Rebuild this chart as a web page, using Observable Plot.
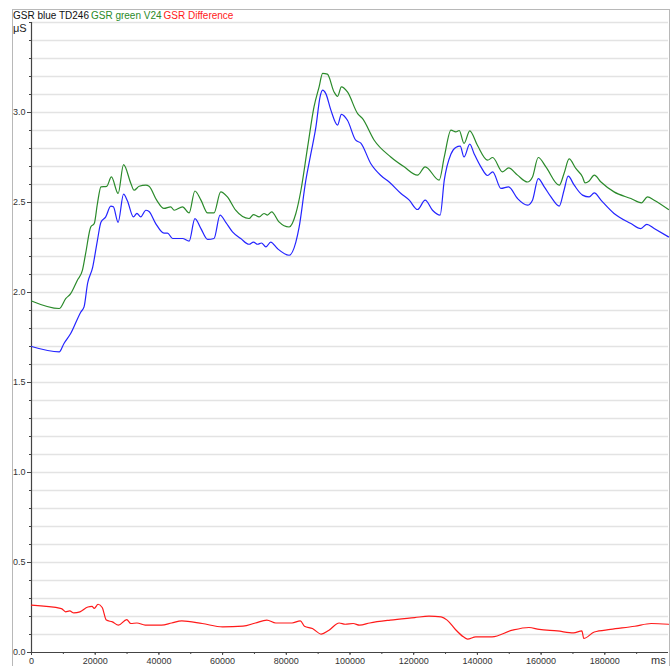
<!DOCTYPE html>
<html>
<head>
<meta charset="utf-8">
<script src="https://cdn.jsdelivr.net/npm/d3@7"></script>
<script src="https://cdn.jsdelivr.net/npm/@observablehq/plot@0.6"></script>
<style>
  html, body { margin: 0; padding: 0; background: #fff; }
  #wrap { position: relative; width: 670px; height: 666px; overflow: hidden; font-family: "Liberation Sans", Arial, sans-serif; }
  #frame { position: absolute; left: 12px; top: 9px; width: 656px; height: 700px; border: 1px solid #b8b8b8; border-bottom: none; }
  #legend { position: absolute; left: 13px; top: 10px; font-size: 10px; line-height: 12px; white-space: nowrap; }
  #legend span { margin-right: 2px; }
  #unit { position: absolute; left: 13px; top: 22px; font-size: 11px; line-height: 12px; color: #222; }
  #xunit { position: absolute; left: 651px; top: 654px; font-size: 11px; line-height: 12px; color: #333; }
  #chart { position: absolute; left: 0; top: 0; }
</style>
</head>
<body>
<div id="wrap">
  <div id="frame"></div>
  <div id="chart"></div>
  <div id="legend"></div>
  <div id="unit">μS</div>
  <div id="xunit"></div>
</div>
<script>
// ---- series names & colours ----
const seriesNames = ["GSR blue TD246", "GSR green V24", "GSR Difference"];
const legendColors = ["#111111", "#2a8a2a", "#ff1a1a"];
const lineColors = ["#2424ff", "#2a8a2a", "#ff1a1a"];

// ---- tick labels ----
const xTicks = [0, 20000, 40000, 60000, 80000, 100000, 120000, 140000, 160000, 180000];
const yTicks = [0.0, 0.5, 1.0, 1.5, 2.0, 2.5, 3.0];
const xUnit = "ms";

// ---- GSR blue TD246 (ms, µS) ----
const blueT = [0, 8700, 10200, 12300, 15500, 16500, 17600, 19200, 20700, 21800, 23300, 24900, 25700, 27200, 28900, 30100, 32000, 33100, 34300, 35900, 36900, 39000, 41600, 42700, 44300, 47400, 49500, 51300, 53200, 55300, 57300, 59200, 61000, 63100, 65700, 68300, 69700, 71000, 72200, 73600, 75100, 77200, 80900, 83000, 84000, 86100, 87700, 89300, 90600, 91400, 92400, 94000, 96100, 97300, 99200, 101800, 103400, 106500, 109700, 112300, 116000, 118600, 121200, 123600, 125900, 128300, 129600, 131700, 133200, 134600, 135800, 137600, 139000, 141100, 143200, 144800, 147400, 149800, 152600, 155700, 157300, 159100, 161000, 163100, 165700, 167200, 168500, 170400, 173000, 175100, 176700, 178800, 182900, 188200, 191300, 193200, 195500, 200000];
const blueV = [1.70, 1.67, 1.717, 1.772, 1.892, 1.92, 2.05, 2.14, 2.29, 2.39, 2.42, 2.48, 2.476, 2.39, 2.546, 2.51, 2.42, 2.44, 2.42, 2.457, 2.45, 2.383, 2.33, 2.33, 2.30, 2.30, 2.285, 2.41, 2.355, 2.295, 2.30, 2.43, 2.39, 2.337, 2.30, 2.268, 2.28, 2.268, 2.275, 2.253, 2.28, 2.244, 2.207, 2.28, 2.36, 2.62, 2.77, 2.92, 3.087, 3.124, 3.105, 3.013, 2.93, 2.99, 2.957, 2.846, 2.83, 2.717, 2.65, 2.614, 2.55, 2.513, 2.461, 2.513, 2.457, 2.43, 2.624, 2.77, 2.806, 2.813, 2.753, 2.824, 2.77, 2.698, 2.65, 2.67, 2.578, 2.587, 2.522, 2.485, 2.513, 2.633, 2.587, 2.531, 2.48, 2.568, 2.646, 2.596, 2.541, 2.531, 2.553, 2.513, 2.439, 2.383, 2.355, 2.379, 2.355, 2.309];

// ---- GSR green V24 (ms, µS) ----
const greenT = [0, 8700, 10800, 12300, 14400, 16000, 17000, 18600, 19700, 20700, 21800, 23600, 25100, 27200, 28900, 31200, 32200, 33800, 35900, 36900, 39300, 41600, 43700, 44800, 47400, 49500, 51300, 53200, 55300, 57300, 59400, 61500, 64100, 68300, 69700, 71500, 73000, 74100, 75400, 77700, 80900, 83000, 84600, 86700, 88700, 90300, 91400, 92900, 95000, 96100, 97300, 99200, 102400, 103900, 107600, 112800, 117000, 121200, 123600, 128000, 129600, 131700, 133200, 134300, 135800, 137600, 140000, 143200, 144800, 147900, 149800, 152600, 155700, 157300, 159100, 161500, 165700, 167200, 168800, 170900, 173000, 173800, 175100, 176700, 178800, 182900, 188200, 191500, 193400, 195500, 200000];
const greenV = [1.953, 1.911, 1.967, 1.994, 2.068, 2.124, 2.217, 2.364, 2.383, 2.494, 2.587, 2.59, 2.642, 2.55, 2.71, 2.606, 2.568, 2.59, 2.596, 2.59, 2.513, 2.467, 2.476, 2.457, 2.476, 2.442, 2.564, 2.513, 2.442, 2.442, 2.559, 2.531, 2.457, 2.411, 2.433, 2.42, 2.439, 2.43, 2.448, 2.392, 2.364, 2.439, 2.568, 2.809, 3.031, 3.142, 3.217, 3.213, 3.114, 3.09, 3.142, 3.114, 2.994, 2.967, 2.846, 2.753, 2.698, 2.652, 2.698, 2.624, 2.753, 2.902, 2.892, 2.90, 2.828, 2.898, 2.818, 2.735, 2.75, 2.67, 2.692, 2.652, 2.614, 2.642, 2.75, 2.698, 2.596, 2.661, 2.742, 2.689, 2.642, 2.609, 2.62, 2.652, 2.614, 2.559, 2.522, 2.498, 2.531, 2.513, 2.461];

// ---- GSR Difference (ms, µS) ----
const diffT = [0, 9400, 10700, 12000, 13300, 15200, 17700, 19000, 19700, 20900, 22200, 23500, 25400, 27300, 29900, 31200, 33100, 35700, 40800, 44000, 47200, 53600, 60000, 66400, 70300, 73900, 76700, 81800, 84400, 85700, 88200, 91000, 93400, 96600, 98500, 101000, 103000, 106200, 112600, 120300, 124800, 128600, 130500, 133100, 135600, 136900, 139500, 144600, 151000, 156200, 159400, 165100, 170200, 172800, 173400, 176700, 181800, 189400, 194600, 200000];
const diffV = [0.263, 0.244, 0.226, 0.231, 0.22, 0.226, 0.253, 0.256, 0.245, 0.268, 0.25, 0.18, 0.17, 0.152, 0.183, 0.161, 0.164, 0.152, 0.152, 0.164, 0.176, 0.161, 0.142, 0.146, 0.164, 0.18, 0.164, 0.164, 0.176, 0.146, 0.133, 0.102, 0.124, 0.164, 0.157, 0.161, 0.152, 0.164, 0.18, 0.194, 0.202, 0.198, 0.18, 0.128, 0.087, 0.074, 0.087, 0.087, 0.124, 0.139, 0.128, 0.12, 0.109, 0.12, 0.078, 0.114, 0.128, 0.146, 0.161, 0.157];

const toRows = (T, V) => T.map((t, i) => ({t, v: V[i]}));
const blue = toRows(blueT, blueV);
const green = toRows(greenT, greenV);
const diff = toRows(diffT, diffV);

const yMinor = d3.range(0, 36).map(i => i / 10);
const xMinor = d3.range(0, 20).map(i => i * 10000);

const legend = document.getElementById("legend");
seriesNames.forEach((n, i) => {
  const s = document.createElement("span");
  s.textContent = n;
  s.style.color = legendColors[i];
  legend.appendChild(s);
});
document.getElementById("xunit").textContent = xUnit;

const chart = Plot.plot({
  width: 670,
  height: 666,
  marginTop: 22,
  marginLeft: 31,
  marginRight: 2,
  marginBottom: 14,
  style: {fontFamily: "'Liberation Sans', Arial, sans-serif", fontSize: "9px", color: "#333", background: "transparent", overflow: "visible"},
  x: {domain: [0, 200000]},
  y: {domain: [0, 3.5]},
  marks: [
    Plot.gridY(yMinor.filter(d => d > 0), {stroke: "#e3e3e3", strokeOpacity: 1, strokeWidth: 1.5}),
    Plot.axisY(yMinor, {tickSize: 2, tickFormat: () => "", label: null, stroke: "#444"}),
    Plot.axisY(yTicks, {tickSize: 4, tickPadding: 2, tickFormat: d3.format(".1f"), label: null, stroke: "#444", fill: "#333"}),
    Plot.axisX(xMinor, {tickSize: 2, tickFormat: () => "", label: null, stroke: "#444"}),
    Plot.axisX(xTicks, {tickSize: 3, tickPadding: 2, tickFormat: d => String(d), label: null, stroke: "#444", fill: "#333"}),
    Plot.ruleX([0], {stroke: "#444", strokeWidth: 1.2}),
    Plot.ruleY([0], {stroke: "#444", strokeWidth: 1.2}),
    Plot.line(diff, {x: "t", y: "v", stroke: lineColors[2], strokeWidth: 1.2, curve: "monotone-x"}),
    Plot.line(green, {x: "t", y: "v", stroke: lineColors[1], strokeWidth: 1.2, curve: "monotone-x"}),
    Plot.line(blue, {x: "t", y: "v", stroke: lineColors[0], strokeWidth: 1.2, curve: "monotone-x"})
  ]
});
document.getElementById("chart").appendChild(chart);
</script>
</body>
</html>
